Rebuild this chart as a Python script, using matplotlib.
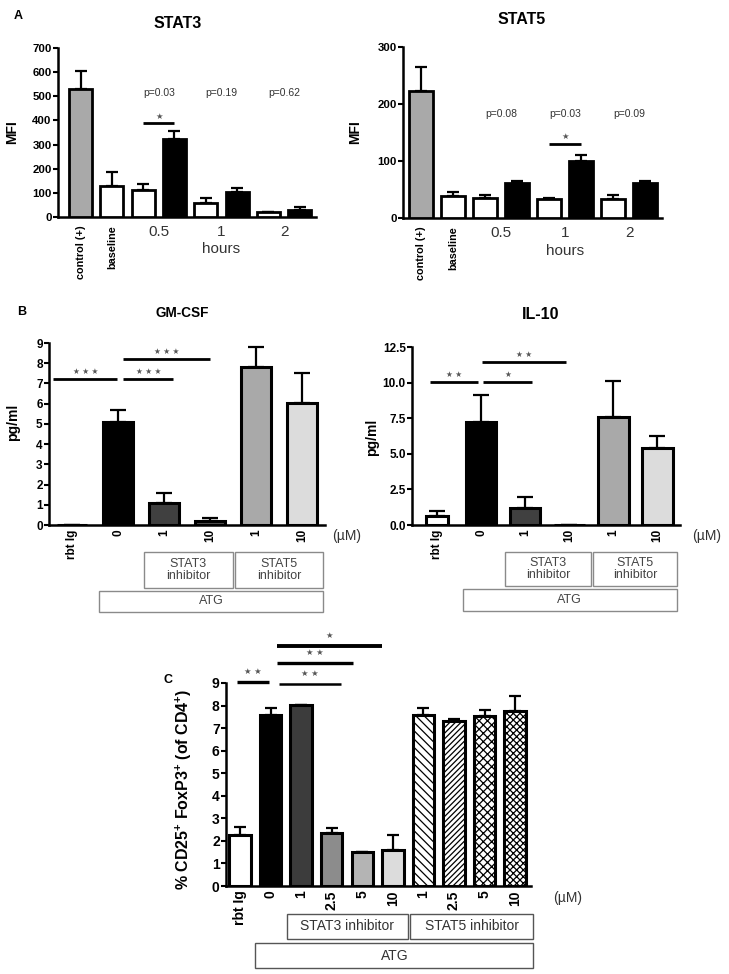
import numpy as np
import matplotlib
matplotlib.use('Agg')
import matplotlib.pyplot as plt
from matplotlib.patches import Rectangle
from matplotlib.transforms import blended_transform_factory

plt.rcParams['font.family'] = ['Liberation Sans', 'DejaVu Sans']
plt.rcParams['mathtext.fontset'] = 'custom'
plt.rcParams['mathtext.rm'] = 'Liberation Sans'
plt.rcParams['mathtext.bf'] = 'Liberation Sans:bold'
plt.rcParams['hatch.linewidth'] = 0.9

# ------------------------------------------------------------------ data
# Panel A - STAT3
stat3_groups = ['0.5', '1', '2']
stat3_control, stat3_control_err = 530, 75
stat3_baseline, stat3_baseline_err = 130, 55
stat3_untreated = [112, 60, 20]
stat3_untreated_err = [23, 18, 2]
stat3_atg = [325, 105, 28]
stat3_atg_err = [33, 17, 14]
stat3_p = ['p=0.03', 'p=0.19', 'p=0.62']
stat3_yticks = [0, 100, 200, 300, 400, 500, 600, 700]

# Panel A - STAT5
stat5_groups = ['0.5', '1', '2']
stat5_control, stat5_control_err = 222, 43
stat5_baseline, stat5_baseline_err = 38, 7
stat5_untreated = [35, 33, 34]
stat5_untreated_err = [6, 2, 6]
stat5_atg = [62, 100, 61]
stat5_atg_err = [3, 10, 4]
stat5_p = ['p=0.08', 'p=0.03', 'p=0.09']
stat5_yticks = [0, 100, 200, 300]

# Panel B
b_labels = ['rbt Ig', '0', '1', '10', '1', '10']
gmcsf = [0.0, 5.1, 1.1, 0.22, 7.8, 6.04]
gmcsf_err = [0.0, 0.6, 0.5, 0.15, 1.0, 1.5]
gmcsf_yticks = [0, 1, 2, 3, 4, 5, 6, 7, 8, 9]
il10 = [0.62, 7.25, 1.22, 0.0, 7.6, 5.38]
il10_err = [0.38, 1.85, 0.77, 0.0, 2.5, 0.9]
il10_yticks = [0.0, 2.5, 5.0, 7.5, 10.0, 12.5]

# Panel C
c_labels = ['rbt Ig', '0', '1', '2.5', '5', '10', '1', '2.5', '5', '10']
c_vals = [2.28, 7.57, 8.03, 2.33, 1.5, 1.6, 7.58, 7.32, 7.54, 7.76]
c_err = [0.35, 0.34, 0.0, 0.22, 0.0, 0.66, 0.33, 0.08, 0.27, 0.65]
c_yticks = [0, 1, 2, 3, 4, 5, 6, 7, 8, 9]

# ------------------------------------------------------------------ figure
W, H = 729, 974
fig = plt.figure(figsize=(W / 100, H / 100), dpi=100)

STAR = '\u2605'


def stars(n):
    return ' '.join([STAR] * n)


def rect(l, r, t, b):
    return [l / W, 1 - b / H, (r - l) / W, (b - t) / H]


def ftext(x, y, s, **kw):
    fig.text(x / W, 1 - y / H, s, **kw)


def style(ax, ysize=8.5):
    for s in ['top', 'right']:
        ax.spines[s].set_visible(False)
    for s in ['left', 'bottom']:
        ax.spines[s].set_linewidth(1.8)
    ax.tick_params(axis='y', length=3.5, width=1.5, labelsize=ysize, pad=1)
    ax.tick_params(axis='x', length=0)
    for lab in ax.get_yticklabels():
        lab.set_fontweight('bold')


def bars(ax, x, vals, errs, width, colors, hatches=None, cap=4.7, lw=2.0):
    b = ax.bar(x, vals, width, color=colors, edgecolor='black', linewidth=lw,
               zorder=3)
    if hatches is not None:
        for patch, h in zip(b, hatches):
            if h:
                patch.set_hatch(h)
    ax.errorbar(x, vals, yerr=[np.zeros(len(vals)), errs], fmt='none',
                ecolor='black', elinewidth=1.6, capsize=cap, capthick=1.6,
                zorder=2)
    return b


def sig(ax, x0, x1, y, n, lw=2.0, dy=5.5, fs=5.5):
    ax.plot([x0, x1], [y, y], color='black', lw=lw, clip_on=False,
            solid_capstyle='butt', zorder=4)
    ax.annotate(stars(n), xy=((x0 + x1) / 2, y), xytext=(0, dy),
                textcoords='offset points', ha='center', va='center',
                fontsize=fs, color='#555555', annotation_clip=False,
                family='DejaVu Sans')


# ------------------------------------------------------------------ Panel A
def panel_a(r, title, control, control_err, baseline, baseline_err,
            untreated, untreated_err, atg, atg_err, groups, pvals, yticks,
            xlim, width, pval_y, sig_spec, title_xy, hours_y):
    ax = fig.add_axes(rect(*r))
    x = np.arange(8)
    vals = [control, baseline] + [v for pair in zip(untreated, atg) for v in pair]
    errs = [control_err, baseline_err] + [v for pair in zip(untreated_err, atg_err) for v in pair]
    colors = ['#a9a9a9', 'white'] + ['white', 'black'] * 3
    bars(ax, x, vals, errs, width, colors, cap=4.5)
    ax.set_ylim(0, yticks[-1])
    ax.set_xlim(*xlim)
    ax.set_yticks(yticks)
    centers = [2.5, 4.5, 6.5]
    ax.set_xticks([0, 1] + centers)
    ax.set_xticklabels(['control (+)', 'baseline'] + groups)
    style(ax, 8.2)
    labs = ax.get_xticklabels()
    for lab in labs[:2]:
        lab.set_rotation(90)
        lab.set_fontweight('bold')
        lab.set_fontsize(7.8)
        lab.set_va('top')
    for lab in labs[2:]:
        lab.set_fontsize(11)
        lab.set_color('#333333')
    ax.tick_params(axis='x', pad=6)
    for c, p in zip(centers, pvals):
        ax.text(c, pval_y, p, ha='center', va='center', fontsize=7.5,
                color='#333333')
    sig(ax, *sig_spec, lw=2.0, dy=5.0, fs=6)
    ax.text(4.5, hours_y, 'hours', transform=blended_transform_factory(
        ax.transData, fig.transFigure), ha='center', va='center',
        fontsize=11, color='#333333')
    ftext(title_xy[0], title_xy[1], title, ha='center', va='center',
          fontsize=11.5, fontweight='bold')
    return ax


axA1 = panel_a((58, 316, 48, 217), 'STAT3', stat3_control, stat3_control_err,
               stat3_baseline, stat3_baseline_err, stat3_untreated,
               stat3_untreated_err, stat3_atg, stat3_atg_err, stat3_groups,
               stat3_p, stat3_yticks, (-0.72, 7.52), 0.73, 514,
               (2.0, 3.0, 389, 1), (178, 23), 1 - 249 / H)
axA2 = panel_a((403, 662, 47, 218), 'STAT5', stat5_control, stat5_control_err,
               stat5_baseline, stat5_baseline_err, stat5_untreated,
               stat5_untreated_err, stat5_atg, stat5_atg_err, stat5_groups,
               stat5_p, stat5_yticks, (-0.56, 7.53), 0.75, 183,
               (4.0, 5.0, 130, 1), (522, 20), 1 - 251 / H)
ftext(12, 132, 'MFI', rotation=90, ha='center', va='center', fontsize=10,
      fontweight='bold')
ftext(355, 132, 'MFI', rotation=90, ha='center', va='center', fontsize=10,
      fontweight='bold')
ftext(18, 16, 'A', ha='center', va='center', fontsize=9, fontweight='bold')


# ------------------------------------------------------------------ Panel B
def panel_b(r, title, title_fs, vals, errs, yticks, yfmt, xlim, widths, sigs,
            title_xy, um_xy, ylab_xy, box_px):
    ax = fig.add_axes(rect(*r))
    x = np.arange(6)
    colors = ['white', 'black', '#404040', '#505050', '#a9a9a9', '#dcdcdc']
    bars(ax, x, vals, errs, widths, colors, cap=6.0, lw=2.2)
    ax.set_ylim(0, yticks[-1])
    ax.set_xlim(*xlim)
    ax.set_yticks(yticks)
    ax.set_yticklabels([yfmt.format(v) for v in yticks])
    ax.set_xticks(x)
    ax.set_xticklabels(b_labels, rotation=90, fontweight='bold', fontsize=8.5,
                       va='top')
    ax.tick_params(axis='x', pad=3)
    style(ax, 8.5)
    ftext(ylab_xy[0], ylab_xy[1], 'pg/ml', rotation=90, ha='center',
          va='center', fontsize=10, fontweight='bold')
    for s in sigs:
        sig(ax, *s, lw=2.0, dy=5.5, fs=5.5)
    ftext(title_xy[0], title_xy[1], title, ha='center', va='center',
          fontsize=title_fs, fontweight='bold')
    ftext(um_xy[0], um_xy[1], '(\u00b5M)', ha='center', va='center',
          fontsize=10, color='#333333')
    tr = blended_transform_factory(ax.transData, fig.transFigure)
    (t1, b1), (t2, b2) = box_px
    boxes = [(1.55, 3.5, t1, b1, 'STAT3\ninhibitor'),
             (3.55, 5.45, t1, b1, 'STAT5\ninhibitor'),
             (0.58, 5.45, t2, b2, 'ATG')]
    for x0, x1, t, b, lab in boxes:
        ax.add_patch(Rectangle((x0, 1 - b / H), x1 - x0, (b - t) / H,
                               transform=tr, fill=False, edgecolor='#8a8a8a',
                               lw=1.0, clip_on=False))
        ax.text((x0 + x1) / 2, 1 - (t + b) / 2 / H, lab, transform=tr,
                ha='center', va='center', fontsize=9, color='#444444',
                linespacing=1.1)
    return ax


axB1 = panel_b((49, 325, 343, 525), 'GM-CSF', 9.8, gmcsf, gmcsf_err,
               gmcsf_yticks, '{:g}', (-0.51, 5.5), 0.65,
               [(-0.42, 0.98, 7.2, 3), (1.1, 2.2, 7.2, 3),
                (1.1, 3.0, 8.22, 3)],
               (182, 313), (347, 536), (13, 422), ((552, 588), (591, 612)))
axB2 = panel_b((412, 680, 347, 525), 'IL-10', 11.5, il10, il10_err,
               il10_yticks, '{:.1f}', (-0.57, 5.52),
               [0.5, 0.7, 0.7, 0.7, 0.7, 0.7],
               [(-0.16, 0.93, 10.05, 2), (1.05, 2.16, 10.05, 1),
                (1.02, 2.93, 11.45, 2)],
               (541, 315), (707, 536), (372, 437), ((552, 586), (589, 611)))
ftext(22, 312, 'B', ha='center', va='center', fontsize=9, fontweight='bold')

# ------------------------------------------------------------------ Panel C
axC = fig.add_axes(rect(226, 531, 683, 886))
xc = np.arange(10)
c_colors = ['white', 'black', '#3c3c3c', '#8c8c8c', '#b4b4b4', '#dcdcdc',
            'white', 'white', 'white', 'white']
c_hatches = [None] * 6 + ['\\\\\\\\', '//////', 'xxxx', 'xxxxx']
bars(axC, xc, c_vals, c_err, 0.7, c_colors, hatches=c_hatches, cap=4.5,
     lw=2.2)
axC.set_ylim(0, 9)
axC.set_xlim(-0.46, 9.52)
axC.set_yticks(c_yticks)
axC.set_xticks(xc)
axC.set_xticklabels(c_labels, rotation=90, fontweight='bold', fontsize=10,
                    va='top')
axC.tick_params(axis='x', pad=3)
style(axC, 10)
ftext(184, 789, r'% CD25$^{\mathbf{+}}$ FoxP3$^{\mathbf{+}}$ (of CD4$^{\mathbf{+}}$)',
      rotation=90, ha='center', va='center', fontsize=11.5, fontweight='bold')
for s, lw in [((-0.1, 0.95, 9.04, 2), 2.4), ((1.28, 3.3, 8.97, 2), 1.8),
              ((1.21, 3.7, 9.88, 2), 2.4), ((1.21, 4.65, 10.66, 1), 2.8)]:
    sig(axC, *s, lw=lw, dy=7.5, fs=6)
trC = blended_transform_factory(axC.transData, fig.transFigure)
for x0, x1, t, b, lab in [(1.52, 5.5, 914, 939, 'STAT3 inhibitor'),
                          (5.56, 9.6, 914, 939, 'STAT5 inhibitor'),
                          (0.5, 9.6, 943, 968, 'ATG')]:
    axC.add_patch(Rectangle((x0, 1 - b / H), x1 - x0, (b - t) / H,
                            transform=trC, fill=False, edgecolor='#555555',
                            lw=1.0, clip_on=False))
    axC.text((x0 + x1) / 2, 1 - (t + b) / 2 / H, lab, transform=trC,
             ha='center', va='center', fontsize=10, color='#333333')
ftext(568, 898, '(\u00b5M)', ha='center', va='center', fontsize=10,
      color='#333333')
ftext(168, 680, 'C', ha='center', va='center', fontsize=9, fontweight='bold')

fig.savefig('out.png', dpi=100)
